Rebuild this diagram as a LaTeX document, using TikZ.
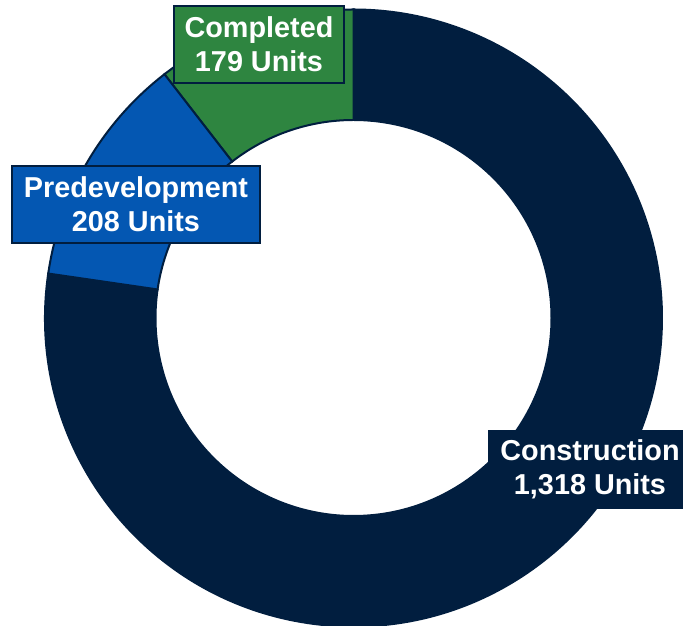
\documentclass[tikz,border=0pt]{standalone}
\usepackage{fontspec}
\setmainfont{Liberation Sans}
\definecolor{navy}{HTML}{011E3F}
\definecolor{cgreen}{HTML}{2E8540}
\definecolor{cblue}{HTML}{0457B2}
\tikzset{
  seg/.style={draw=navy, line width=2pt, line join=miter},
  lbl/.style={draw=navy, line width=1.3pt, text=white, inner sep=0pt, align=center,
    minimum height=77pt, font=\fontsize{28.8}{34}\selectfont\bfseries}
}
\begin{document}
\begin{tikzpicture}[x=1pt,y=1pt]
\useasboundingbox (0,0) rectangle (683,626);
\fill[white] (0,0) rectangle (683,626);
\begin{scope}[shift={(353.5,308)}]
  \def\R{308.5}
  \def\r{198}
  % Construction
  \filldraw[seg, fill=navy] (171.713:\R) arc[start angle=171.713, end angle=450, radius=\R]
     -- (450:\r) arc[start angle=450, end angle=171.713, radius=\r] -- cycle;
  % Completed
  \filldraw[seg, fill=cgreen] (90:\R) arc[start angle=90, end angle=127.795, radius=\R]
     -- (127.795:\r) arc[start angle=127.795, end angle=90, radius=\r] -- cycle;
  % Predevelopment
  \filldraw[seg, fill=cblue] (127.795:\R) arc[start angle=127.795, end angle=171.713, radius=\R]
     -- (171.713:\r) arc[start angle=171.713, end angle=127.795, radius=\r] -- cycle;
\end{scope}
\node[lbl, fill=cgreen, minimum width=170pt] (completed) at (259,581.5) {Completed\\179 Units};
\node[lbl, fill=cblue, minimum width=248pt] (predev) at (136,421.5) {Predevelopment\\208 Units};
\node[lbl, fill=navy, minimum width=202pt] (constr) at (590,156.5) {Construction\\1,318 Units};
\end{tikzpicture}
\end{document}
